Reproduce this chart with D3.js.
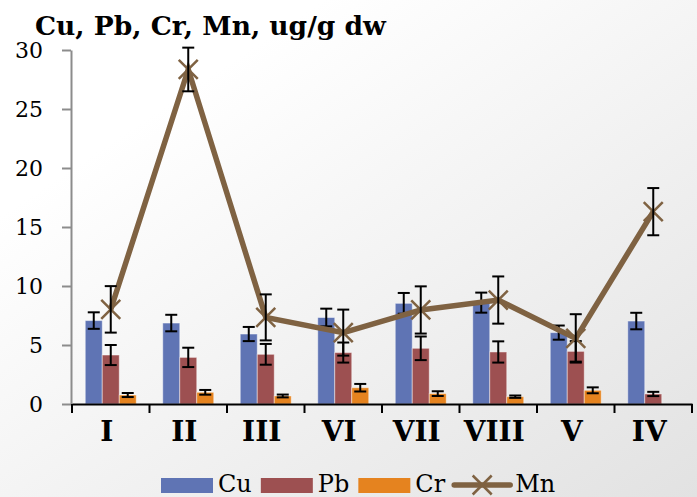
<!DOCTYPE html>
<html>
<head>
<meta charset="utf-8">
<script src="https://cdn.jsdelivr.net/npm/d3@7"></script>
<style>
  body { margin: 0; background: #fff; }
  svg { display: block; }
</style>
</head>
<body>
<div id="chart"></div>
<script>
// data
var categories = ["I", "II", "III", "VI", "VII", "VIII", "V", "IV"];
var cu    = [7.07, 6.86, 5.93, 7.33, 8.53, 8.59, 6.05, 7.03];
var cuErr = [0.70, 0.70, 0.60, 0.75, 0.88, 0.85, 0.60, 0.70];
var pb    = [4.15, 3.95, 4.21, 4.36, 4.72, 4.41, 4.46, 0.85];
var pbErr = [0.85, 0.82, 0.88, 0.85, 1.00, 0.90, 0.87, 0.18];
var cr    = [0.76, 0.99, 0.68, 1.38, 0.88, 0.62, 1.16, null];
var crErr = [0.17, 0.20, 0.12, 0.32, 0.20, 0.10, 0.25, null];
var mn    = [8.02, 28.35, 7.34, 6.05, 7.97, 8.81, 5.56, 16.3];
var mnErr = [1.97, 1.85, 1.95, 1.95, 2.00, 2.00, 2.05, 2.00];
var yTicks = [0, 5, 10, 15, 20, 25, 30];
var title = "Cu, Pb, Cr, Mn, ug/g dw";

var barSeries = [
  { name: "Cu", values: cu, err: cuErr, color: "#5F74B4" },
  { name: "Pb", values: pb, err: pbErr, color: "#9D5051" },
  { name: "Cr", values: cr, err: crErr, color: "#E5831F" }
];
var mnColor = "#7F6242";

var width = 697;
var height = 497;
var serif = "'DejaVu Serif', serif";

var svg = d3.select("#chart")
  .append("svg")
    .attr("width", width)
    .attr("height", height);

// ======= background ========
var grad = svg.append("defs").append("linearGradient")
    .attr("id", "bg")
    .attr("x1", "0.25").attr("y1", "0.2")
    .attr("x2", "1").attr("y2", "1");
grad.append("stop").attr("offset", "0").attr("stop-color", "#ffffff");
grad.append("stop").attr("offset", "1").attr("stop-color", "#e2e2e2");

svg.append("rect")
    .attr("width", width)
    .attr("height", height)
    .attr("fill", "url(#bg)");

svg.append("text")
    .attr("x", 35)
    .attr("y", 35)
    .style("font-family", serif)
    .style("font-weight", "bold")
    .style("font-size", "26.5px")
    .attr("fill", "#000")
    .text(title);

// ======= scales ========
var x = d3.scaleBand()
    .domain(categories)
    .range([72, 692])
    .paddingInner(0)
    .paddingOuter(0);

var xSub = d3.scaleBand()
    .domain(barSeries.map(function(s){ return s.name; }))
    .range([0, x.bandwidth()])
    .paddingInner(0)
    .paddingOuter(0.78);

var y = d3.scaleLinear()
    .domain([0, 30])
    .range([404, 50]);

// ======= y axis ========
var yAxis = svg.append("g")
    .attr("transform", "translate(71,0)")
    .call(d3.axisLeft(y).tickValues(yTicks).tickSize(9).tickPadding(19).tickSizeOuter(0));
yAxis.attr("font-family", null).attr("font-size", null);
yAxis.select(".domain").attr("stroke", "#8c8c8c").attr("stroke-width", 2);
yAxis.selectAll(".tick line").attr("stroke", "#8c8c8c").attr("stroke-width", 2);
yAxis.selectAll(".tick text")
    .style("font-family", serif)
    .style("font-size", "22px")
    .attr("fill", "#000");

// ======= bars ========
var groups = svg.selectAll(".cat")
    .data(categories)
  .enter().append("g")
    .attr("class", "cat")
    .attr("transform", function(d){ return "translate(" + x(d) + ",0)"; });

groups.each(function(c, i){
  var g = d3.select(this);
  barSeries.forEach(function(s){
    var v = s.values[i];
    if (v == null) return;
    g.append("rect")
        .attr("x", xSub(s.name))
        .attr("y", y(v))
        .attr("width", xSub.bandwidth())
        .attr("height", y(0) - y(v))
        .attr("fill", s.color)
        .attr("stroke", "rgba(255,255,255,0.45)")
        .attr("stroke-width", 1);
  });
});

function errorBar(g, cx, v, e, cap) {
  g.append("line")
      .attr("x1", cx).attr("x2", cx)
      .attr("y1", y(v + e)).attr("y2", y(v - e));
  [v + e, v - e].forEach(function(t){
    g.append("line")
        .attr("x1", cx - cap).attr("x2", cx + cap)
        .attr("y1", y(t)).attr("y2", y(t));
  });
}

var barErr = svg.append("g")
    .attr("stroke", "#000")
    .attr("stroke-width", 2);
categories.forEach(function(c, i){
  barSeries.forEach(function(s){
    if (s.values[i] == null) return;
    errorBar(barErr, x(c) + xSub(s.name) + xSub.bandwidth() / 2, s.values[i], s.err[i], 6);
  });
});

// ======= x axis ========
var xAxis = svg.append("g")
    .attr("transform", "translate(0,404)")
    .call(d3.axisBottom(x).tickSize(0).tickSizeOuter(0));
xAxis.attr("font-family", null).attr("font-size", null);
xAxis.select(".domain").attr("stroke", "#000").attr("stroke-width", 2);
xAxis.selectAll(".tick text")
    .attr("y", 37)
    .attr("dy", null)
    .attr("dx", -4)
    .style("font-family", serif)
    .style("font-weight", "bold")
    .style("font-size", "28px")
    .attr("fill", "#000");
xAxis.selectAll(".sep")
    .data(categories.map(function(c){ return x(c); }).concat([x.range()[1]]))
  .enter().append("line")
    .attr("class", "sep")
    .attr("x1", function(d){ return d; })
    .attr("x2", function(d){ return d; })
    .attr("y1", 0)
    .attr("y2", 9)
    .attr("stroke", "#000")
    .attr("stroke-width", 2);

// ======= Mn line ========
function xPath(cx, cy, r) {
  return "M" + (cx - r) + "," + (cy - r) + "L" + (cx + r) + "," + (cy + r) +
         "M" + (cx - r) + "," + (cy + r) + "L" + (cx + r) + "," + (cy - r);
}

var line = d3.line()
    .x(function(d, i){ return x(categories[i]) + x.bandwidth() / 2; })
    .y(function(d){ return y(d); });

svg.append("path")
    .datum(mn)
    .attr("d", line)
    .attr("fill", "none")
    .attr("stroke", mnColor)
    .attr("stroke-width", 5.5)
    .attr("stroke-linejoin", "miter");

svg.selectAll(".mnMark")
    .data(mn)
  .enter().append("path")
    .attr("class", "mnMark")
    .attr("d", function(d, i){ return xPath(x(categories[i]) + x.bandwidth() / 2, y(d), 9.5); })
    .attr("stroke", mnColor)
    .attr("stroke-width", 2.5)
    .attr("fill", "none");

var mnErrG = svg.append("g")
    .attr("stroke", "#000")
    .attr("stroke-width", 2);
mn.forEach(function(v, i){
  errorBar(mnErrG, x(categories[i]) + x.bandwidth() / 2, v, mnErr[i], 6);
});

// ======= legend ========
var legend = svg.append("g").attr("class", "legend");
var lx = 161;
var legendItems = barSeries.map(function(s){ return { name: s.name, color: s.color, type: "bar" }; })
    .concat([{ name: "Mn", color: mnColor, type: "line" }]);

legendItems.forEach(function(item){
  var g = legend.append("g");
  var w = item.type === "bar" ? 52 : 56;
  if (item.type === "bar") {
    g.append("rect")
        .attr("x", lx).attr("y", 478)
        .attr("width", w).attr("height", 15)
        .attr("fill", item.color);
  } else {
    g.append("line")
        .attr("x1", lx).attr("x2", lx + w)
        .attr("y1", 485).attr("y2", 485)
        .attr("stroke", item.color)
        .attr("stroke-width", 5.5)
        .attr("stroke-linecap", "round");
    g.append("path")
        .attr("d", xPath(lx + w / 2, 485, 9.5))
        .attr("stroke", item.color)
        .attr("stroke-width", 2.5);
  }
  var t = g.append("text")
      .attr("x", lx + w + 5)
      .attr("y", 492)
      .style("font-family", serif)
      .style("font-size", "24px")
      .attr("fill", "#000")
      .text(item.name);
  lx = lx + w + 5 + t.node().getComputedTextLength() + 9;
});
</script>
</body>
</html>
